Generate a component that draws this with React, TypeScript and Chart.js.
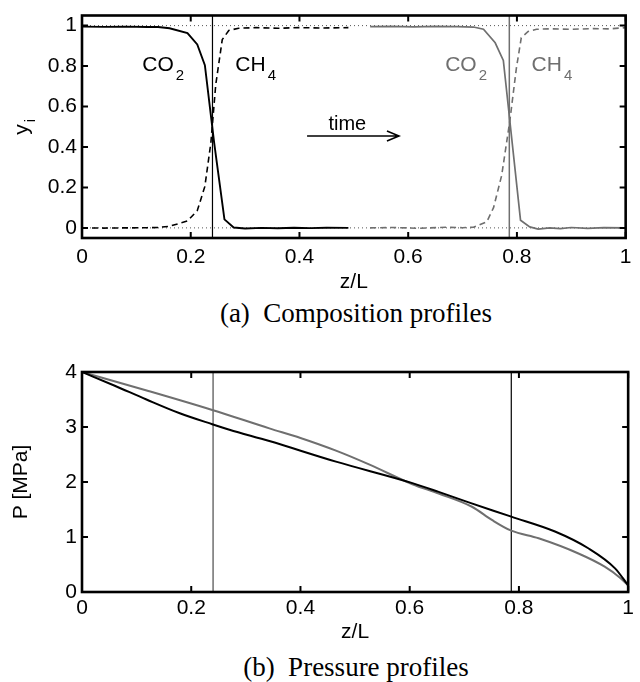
import React, { useEffect, useRef } from "react";
import { Chart, registerables } from "chart.js";
Chart.register(...registerables);

// ---------- tick values / labels ----------
const zTicks = [0, 0.2, 0.4, 0.6, 0.8, 1];
const zTickLabels = ["0", "0.2", "0.4", "0.6", "0.8", "1"];
const yTicks = [0, 0.2, 0.4, 0.6, 0.8, 1];
const yTickLabels = ["0", "0.2", "0.4", "0.6", "0.8", "1"];
const pTicks = [0, 1, 2, 3, 4];
const pTickLabels = ["0", "1", "2", "3", "4"];

// ---------- (a) composition profiles ----------
const zCo2Early = [0, 0.04, 0.08, 0.12, 0.14, 0.161, 0.194, 0.212, 0.226, 0.243, 0.262, 0.279, 0.3, 0.33, 0.36, 0.39, 0.42, 0.45, 0.49];
const yCo2Early = [0.995, 0.994, 0.995, 0.993, 0.993, 0.987, 0.963, 0.907, 0.804, 0.423, 0.042, 0.002, -0.003, 0.0, -0.002, 0.001, -0.001, 0.001, 0.0];
const zCh4Early = [0, 0.04, 0.08, 0.12, 0.14, 0.161, 0.194, 0.212, 0.226, 0.237, 0.246, 0.258, 0.27, 0.288, 0.32, 0.36, 0.4, 0.44, 0.49];
const yCh4Early = [0.0, -0.001, 0.0, 0.001, 0.002, 0.008, 0.034, 0.085, 0.205, 0.42, 0.708, 0.931, 0.976, 0.987, 0.99, 0.987, 0.99, 0.988, 0.99];
const zCo2Late = [0.53, 0.57, 0.61, 0.65, 0.69, 0.72, 0.7385, 0.76, 0.775, 0.8066, 0.8236, 0.839, 0.86, 0.88, 0.9, 0.93, 0.96, 1.0];
const yCo2Late = [0.995, 0.996, 0.994, 0.996, 0.995, 0.993, 0.982, 0.915, 0.828, 0.038, 0.005, -0.006, 0.0, -0.004, 0.002, -0.002, 0.001, 0.0];
const zCh4Late = [0.53, 0.57, 0.62, 0.67, 0.7, 0.72, 0.7445, 0.757, 0.772, 0.787, 0.799, 0.808, 0.8206, 0.836, 0.86, 0.9, 0.94, 0.97, 1.0];
const yCh4Late = [0.0, 0.002, -0.002, 0.003, 0.001, 0.003, 0.03, 0.1, 0.26, 0.53, 0.79, 0.94, 0.971, 0.982, 0.984, 0.982, 0.985, 0.984, 0.99];
const frontEarly = 0.24;
const frontLate = 0.786;

// ---------- (b) pressure profiles ----------
const zPEarly = [0, 0.06, 0.118, 0.179, 0.2385, 0.27, 0.343, 0.465, 0.605, 0.653, 0.708, 0.786, 0.866, 0.927, 0.976, 1.0];
const pEarly = [4.0, 3.75, 3.5, 3.25, 3.05, 2.95, 2.745, 2.37, 1.98, 1.82, 1.63, 1.37, 1.1, 0.795, 0.43, 0.12];
const zPLate = [0, 0.12, 0.2385, 0.343, 0.4, 0.465, 0.5255, 0.605, 0.653, 0.714, 0.7505, 0.786, 0.836, 0.909, 0.957, 0.985, 1.0];
const pLate = [4.0, 3.66, 3.31, 2.975, 2.8, 2.57, 2.32, 1.96, 1.79, 1.55, 1.31, 1.115, 0.976, 0.7, 0.46, 0.26, 0.12];

const GRAY = "#6f6f6f";
const SANS = '"Liberation Sans", Arial, Helvetica, sans-serif';

function pts(xs: number[], ys: number[]) {
  return xs.map((x, i) => ({ x, y: ys[i] }));
}

const framePlugin = {
  id: "matlabFrame",
  afterDraw(chart: any) {
    const { ctx, chartArea: a, scales } = chart;
    const xs = scales.x;
    const ys = scales.y;
    const tl = 6;
    ctx.save();
    ctx.strokeStyle = "#000";
    ctx.lineWidth = 2;
    ctx.setLineDash([]);
    ctx.beginPath();
    xs.ticks.forEach((t: any) => {
      const px = xs.getPixelForValue(t.value);
      ctx.moveTo(px, a.bottom);
      ctx.lineTo(px, a.bottom - tl);
      ctx.moveTo(px, a.top);
      ctx.lineTo(px, a.top + tl);
    });
    ys.ticks.forEach((t: any) => {
      const py = ys.getPixelForValue(t.value);
      ctx.moveTo(a.left, py);
      ctx.lineTo(a.left + tl, py);
      ctx.moveTo(a.right, py);
      ctx.lineTo(a.right - tl, py);
    });
    ctx.stroke();
    ctx.lineWidth = 2.6;
    ctx.strokeRect(a.left, a.top, a.right - a.left, a.bottom - a.top);
    ctx.restore();
  },
};

function drawSub(ctx: CanvasRenderingContext2D, x: number, y: number, main: string, sub: string, color: string) {
  ctx.fillStyle = color;
  ctx.textAlign = "left";
  ctx.textBaseline = "alphabetic";
  ctx.font = `21px ${SANS}`;
  ctx.fillText(main, x, y);
  const w = ctx.measureText(main).width;
  ctx.font = `15px ${SANS}`;
  ctx.fillText(sub, x + w + 2, y + 9);
}

const compositionAnnotations = {
  id: "compAnnot",
  afterDraw(chart: any) {
    const { ctx, scales } = chart;
    const xs = scales.x;
    const ys = scales.y;
    ctx.save();
    const ly = ys.getPixelForValue(0.775);
    drawSub(ctx, xs.getPixelForValue(0.111), ly, "CO", "2", "#000");
    drawSub(ctx, xs.getPixelForValue(0.282), ly, "CH", "4", "#000");
    drawSub(ctx, xs.getPixelForValue(0.668), ly, "CO", "2", GRAY);
    drawSub(ctx, xs.getPixelForValue(0.827), ly, "CH", "4", GRAY);
    // time arrow
    const x1 = xs.getPixelForValue(0.414);
    const x2 = xs.getPixelForValue(0.583);
    const ay = ys.getPixelForValue(0.454);
    ctx.strokeStyle = "#000";
    ctx.lineWidth = 1.6;
    ctx.beginPath();
    ctx.moveTo(x1, ay);
    ctx.lineTo(x2, ay);
    ctx.moveTo(x2 - 12, ay - 5);
    ctx.lineTo(x2, ay);
    ctx.lineTo(x2 - 12, ay + 5);
    ctx.stroke();
    ctx.fillStyle = "#000";
    ctx.font = `20px ${SANS}`;
    ctx.textAlign = "center";
    ctx.textBaseline = "middle";
    ctx.fillText("time", xs.getPixelForValue(0.488), ys.getPixelForValue(0.513));
    // y_i axis label
    const a = chart.chartArea;
    ctx.translate(24, (a.top + a.bottom) / 2);
    ctx.rotate(-Math.PI / 2);
    ctx.font = `21px ${SANS}`;
    const wy = ctx.measureText("y").width;
    ctx.font = `15px ${SANS}`;
    const wi = ctx.measureText("i").width;
    const start = -(wy + wi + 2) / 2;
    ctx.textAlign = "left";
    ctx.textBaseline = "alphabetic";
    ctx.font = `21px ${SANS}`;
    ctx.fillText("y", start, 4);
    ctx.font = `15px ${SANS}`;
    ctx.fillText("i", start + wy + 2, 11);
    ctx.restore();
  },
};

function xAxis(bottomPad: number, height: number, labelPad: number) {
  return {
    type: "linear",
    min: 0,
    max: 1,
    grid: { display: false, drawTicks: false },
    border: { display: false },
    afterBuildTicks: (s: any) => {
      s.ticks = zTicks.map((v) => ({ value: v }));
    },
    afterFit: (s: any) => {
      s.height = height;
    },
    ticks: {
      padding: labelPad,
      color: "#000",
      font: { family: SANS, size: 21, lineHeight: 1 },
      maxRotation: 0,
      autoSkip: false,
      callback: (v: any) => {
        const i = zTicks.indexOf(Number(v));
        return i >= 0 ? zTickLabels[i] : "";
      },
    },
    title: {
      display: true,
      text: "z/L",
      color: "#000",
      font: { family: SANS, size: 21, lineHeight: 1 },
      padding: { top: 0, bottom: bottomPad },
    },
  };
}

function lineDs(data: any[], color: string, width: number, dash: number[] = [], mono = false) {
  return {
    data,
    borderColor: color,
    borderWidth: width,
    borderDash: dash,
    pointRadius: 0,
    fill: false,
    tension: mono ? 0.4 : 0,
    cubicInterpolationMode: mono ? "monotone" : "default",
  };
}

export default function App() {
  const c1 = useRef<HTMLCanvasElement>(null);
  const c2 = useRef<HTMLCanvasElement>(null);

  useEffect(() => {
    const chart1 = new Chart(c1.current!, {
      type: "line",
      data: {
        datasets: [
          lineDs(pts(zCo2Early, yCo2Early), "#000", 1.9),
          lineDs(pts(zCh4Early, yCh4Early), "#000", 1.6, [6, 4]),
          lineDs(pts(zCo2Late, yCo2Late), GRAY, 1.7),
          lineDs(pts(zCh4Late, yCh4Late), GRAY, 1.6, [6, 4]),
          lineDs(pts([frontEarly, frontEarly], [-0.05, 1.05]), "#000", 1.2),
          lineDs(pts([frontLate, frontLate], [-0.05, 1.05]), GRAY, 1.5),
          lineDs(pts([0, 1], [0, 0]), "#555", 1, [1, 3]),
          lineDs(pts([0, 1], [1, 1]), "#555", 1, [1, 3]),
        ] as any,
      },
      options: {
        responsive: false,
        animation: false,
        layout: { autoPadding: false, padding: { left: 0, right: 10, top: 8.6, bottom: 0 } },
        plugins: { legend: { display: false }, tooltip: { enabled: false }, title: { display: false } },
        scales: {
          x: xAxis(0, 55, 8.5) as any,
          y: {
            type: "linear",
            min: -0.05,
            max: 1.05,
            grid: { display: false, drawTicks: false },
            border: { display: false },
            afterBuildTicks: (s: any) => {
              s.ticks = yTicks.map((v) => ({ value: v }));
            },
            afterFit: (s: any) => {
              s.width = 82;
            },
            ticks: {
              padding: 5,
              color: "#000",
              font: { family: SANS, size: 21, lineHeight: 1 },
              callback: (v: any) => {
                const i = yTicks.indexOf(Number(v));
                return i >= 0 ? yTickLabels[i] : "";
              },
            },
          } as any,
        },
      },
      plugins: [framePlugin, compositionAnnotations],
    } as any);

    const chart2 = new Chart(c2.current!, {
      type: "line",
      data: {
        datasets: [
          lineDs(pts(zPEarly, pEarly), "#000", 2, [], true),
          lineDs(pts(zPLate, pLate), GRAY, 2, [], true),
          lineDs(pts([frontEarly, frontEarly], [0, 4]), GRAY, 1.5),
          lineDs(pts([frontLate, frontLate], [0, 4]), "#000", 1.2),
        ] as any,
      },
      options: {
        responsive: false,
        animation: false,
        layout: { autoPadding: false, padding: { left: 0, right: 10, top: 42, bottom: 0 } },
        plugins: { legend: { display: false }, tooltip: { enabled: false }, title: { display: false } },
        scales: {
          x: xAxis(0, 51, 6) as any,
          y: {
            type: "linear",
            min: 0,
            max: 4,
            grid: { display: false, drawTicks: false },
            border: { display: false },
            afterBuildTicks: (s: any) => {
              s.ticks = pTicks.map((v) => ({ value: v }));
            },
            afterFit: (s: any) => {
              s.width = 82;
            },
            ticks: {
              padding: 5,
              color: "#000",
              font: { family: SANS, size: 21, lineHeight: 1 },
              callback: (v: any) => {
                const i = pTicks.indexOf(Number(v));
                return i >= 0 ? pTickLabels[i] : "";
              },
            },
            title: {
              display: true,
              text: "P [MPa]",
              color: "#000",
              font: { family: SANS, size: 21, lineHeight: 1 },
              padding: { top: 11, bottom: 0 },
            },
          } as any,
        },
      },
      plugins: [framePlugin],
    } as any);

    return () => {
      chart1.destroy();
      chart2.destroy();
    };
  }, []);

  const caption: React.CSSProperties = {
    position: "absolute",
    left: 56,
    width: 600,
    textAlign: "center",
    fontFamily: '"Liberation Serif", "Times New Roman", serif',
    fontSize: 27,
    lineHeight: "30px",
    color: "#000",
  };

  return (
    <div style={{ position: "absolute", left: 0, top: 0, width: 640, height: 682, background: "#fff", overflow: "hidden" }}>
      <canvas ref={c1} width={640} height={293} style={{ position: "absolute", left: 0, top: 0 }} />
      <div style={{ ...caption, top: 298 }}>(a)&nbsp; Composition profiles</div>
      <canvas ref={c2} width={640} height={313} style={{ position: "absolute", left: 0, top: 330 }} />
      <div style={{ ...caption, top: 652 }}>(b)&nbsp; Pressure profiles</div>
    </div>
  );
}
